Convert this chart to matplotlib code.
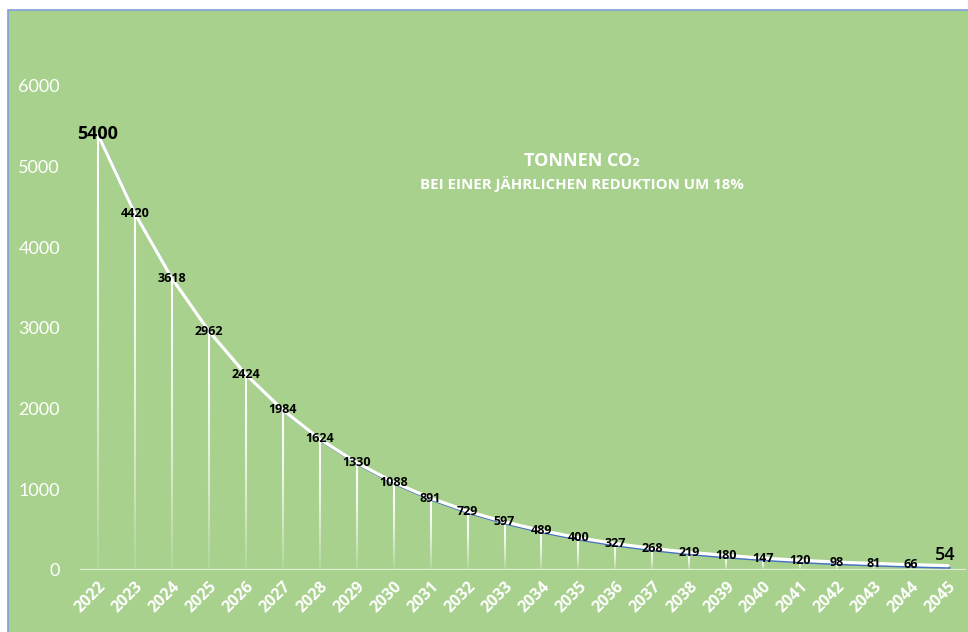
import matplotlib.pyplot as plt
import matplotlib.transforms as mtransforms
from matplotlib.collections import LineCollection
from matplotlib.patches import Rectangle
import numpy as np

years = ['2022', '2023', '2024', '2025', '2026', '2027', '2028', '2029', '2030',
         '2031', '2032', '2033', '2034', '2035', '2036', '2037', '2038', '2039',
         '2040', '2041', '2042', '2043', '2044', '2045']
tonnes = [5400, 4420, 3618, 2962, 2424, 1984, 1624, 1330, 1088, 891, 729, 597,
          489, 400, 327, 268, 219, 180, 147, 120, 98, 81, 66, 54]
y_ticks = [0, 1000, 2000, 3000, 4000, 5000, 6000]

title = 'TONNEN CO₂'
subtitle = 'BEI EINER JÄHRLICHEN REDUKTION UM 18%'

GREEN = '#A9D18E'
BLUE = '#4472C4'
BOLD_FONT = ['Open Sans', 'DejaVu Sans']

fig = plt.figure(figsize=(9.68, 6.32), dpi=100, facecolor='white')
# chart area with thin blue frame (only left/top visible)
bg = Rectangle((8 / 968, -0.05), 1.1, (622 / 632) + 0.05,
               transform=fig.transFigure, facecolor=GREEN,
               edgecolor='#7F9FD8', lw=1.2, zorder=-10)
fig.patches.append(bg)

ax = fig.add_axes([79.5 / 968, 62 / 632, 887 / 968, 484 / 632])
ax.set_facecolor('none')
x = np.arange(len(years))

# drop lines fading towards the bottom
n = 60
segs, cols = [], []
for xi, v in zip(x, tonnes):
    ys = np.linspace(v, 0, n + 1)
    for k in range(n):
        frac = k / n
        segs.append([(xi, ys[k]), (xi, ys[k + 1])])
        cols.append((1, 1, 1, 1 - 0.93 * frac ** 1.6))
ax.add_collection(LineCollection(segs, colors=cols, linewidths=1.5, zorder=2))

# axis line
ax.axhline(0, color='#E3EDDA', lw=1.6, zorder=2)

# series: blue shadow line + white line
shadow = ax.transData + mtransforms.ScaledTranslation(1.8 / 100, -2.2 / 100, fig.dpi_scale_trans)
ax.plot(x, tonnes, color=BLUE, lw=1.4, transform=shadow, zorder=3, solid_capstyle='round')
ax.plot(x, tonnes, color='white', lw=2.3, zorder=4, solid_capstyle='round')

# data labels
for i, (xi, v) in enumerate(zip(x, tonnes)):
    if i == 0:
        ax.text(xi, v, str(v), ha='center', va='center', fontsize=13,
                fontweight='bold', family=BOLD_FONT, color='black', zorder=5)
    elif i == len(tonnes) - 1:
        ax.annotate(str(v), (xi, v), xytext=(-2, 8), textcoords='offset points',
                    ha='center', va='center', fontsize=13, fontweight='semibold',
                    family=BOLD_FONT, color='black', zorder=5)
    else:
        ax.text(xi, v, str(v), ha='center', va='center', fontsize=9,
                fontweight='bold', family=BOLD_FONT, color='black', zorder=5)

ax.set_xlim(-0.5, len(years) - 0.5)
ax.set_ylim(0, 6000)
ax.set_yticks(y_ticks)
ax.set_yticklabels([str(t) for t in y_ticks], family='Lato', fontsize=13, color='white')
ax.set_xticks(x)
ax.set_xticklabels(years, rotation=45, ha='right', va='top', rotation_mode='anchor',
                   family=BOLD_FONT, fontsize=11.5, fontweight='bold', color='white')
ax.tick_params(axis='y', length=0, pad=14)
ax.tick_params(axis='x', length=0, pad=6)
for s in ax.spines.values():
    s.set_visible(False)

fig.text(582 / 968, 1 - 161 / 632, title, ha='center', va='center', color='white',
         fontsize=13, fontweight='bold', family=BOLD_FONT)
fig.text(582 / 968, 1 - 184 / 632, subtitle, ha='center', va='center', color='white',
         fontsize=10.8, fontweight='bold', family=BOLD_FONT)

fig.savefig('out.png', dpi=100, facecolor='white')
